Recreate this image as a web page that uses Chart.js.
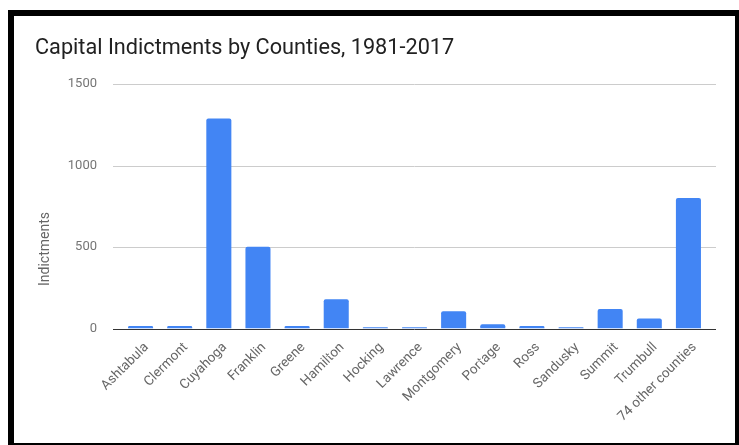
<!DOCTYPE html>
<html>
<head>
<meta charset="utf-8">
<script src="https://cdn.jsdelivr.net/npm/chart.js@4"></script>
<style>
  body { margin: 0; background: #fff; width: 739px; height: 445px; overflow: hidden; position: relative; }
  #frame { position: absolute; left: 8px; top: 10px; width: 721px; height: 427px; border: 6px solid #000; background: #fff; }
  #chart { display: block; }
</style>
</head>
<body>
<div id="frame"><canvas id="chart" width="721" height="427"></canvas></div>
<script>
const counties = ['Ashtabula', 'Clermont', 'Cuyahoga', 'Franklin', 'Greene', 'Hamilton', 'Hocking',
  'Lawrence', 'Montgomery', 'Portage', 'Ross', 'Sandusky', 'Summit', 'Trumbull', '74 other counties'];
const indictments = [16, 16, 1289, 501, 16, 180, 8, 8, 106, 26, 16, 8, 119, 61, 801];
const yTicks = [0, 500, 1000, 1500];

const titleText = 'Capital Indictments by Counties, 1981-2017';
const axisTitle = 'Indictments';

// gridlines run a little past the bars on both sides, plus title and axis label
const decorations = {
  id: 'decorations',
  beforeDatasetsDraw(chart) {
    const { ctx, chartArea, scales } = chart;
    ctx.save();
    yTicks.forEach(v => {
      if (v === 0) return;
      const y = Math.round(scales.y.getPixelForValue(v)) + 0.5;
      ctx.beginPath();
      ctx.strokeStyle = '#ccc';
      ctx.lineWidth = 1;
      ctx.moveTo(chartArea.left - 8, y);
      ctx.lineTo(chartArea.right + 8, y);
      ctx.stroke();
    });
    ctx.restore();
  },
  afterDatasetsDraw(chart) {
    const { ctx, scales, chartArea } = chart;
    // darker baseline over the bar bottoms
    const y0 = Math.round(scales.y.getPixelForValue(0)) + 0.5;
    ctx.save();
    ctx.beginPath();
    ctx.strokeStyle = '#333';
    ctx.lineWidth = 1;
    ctx.moveTo(chartArea.left - 8, y0);
    ctx.lineTo(chartArea.right + 8, y0);
    ctx.stroke();
    ctx.restore();
  },
  afterDraw(chart) {
    const { ctx } = chart;
    ctx.save();
    ctx.fillStyle = '#212121';
    ctx.font = '21.7px Roboto';
    ctx.textBaseline = 'alphabetic';
    ctx.fillText(titleText, 21, 38);

    ctx.translate(31, 233);
    ctx.rotate(-Math.PI / 2);
    ctx.textAlign = 'center';
    ctx.textBaseline = 'middle';
    ctx.fillStyle = '#666';
    ctx.font = '14px Roboto';
    ctx.fillText(axisTitle, 0, 0);
    ctx.restore();
  }
};

new Chart(document.getElementById('chart'), {
  type: 'bar',
  data: {
    labels: counties,
    datasets: [{
      label: axisTitle,
      data: indictments,
      backgroundColor: '#4285f4',
      borderRadius: 2,
      borderSkipped: 'start',
      barPercentage: 0.64,
      categoryPercentage: 1
    }]
  },
  options: {
    responsive: false,
    animation: false,
    layout: { padding: { top: 68, right: 27, left: 0, bottom: 0 } },
    plugins: { legend: { display: false }, tooltip: { enabled: false } },
    scales: {
      x: {
        grid: { display: false },
        border: { display: false },
        ticks: {
          color: '#666',
          font: { family: 'Roboto', size: 13.5 },
          minRotation: 45,
          maxRotation: 45,
          autoSkip: false,
          labelOffset: 6,
          padding: 3
        },
        afterFit(scale) { scale.height = 114.5; }
      },
      y: {
        min: 0,
        max: 1500,
        grid: { display: false },
        border: { display: false },
        afterBuildTicks(scale) { scale.ticks = yTicks.map(v => ({ value: v })); },
        ticks: {
          color: '#757575',
          font: { family: 'Roboto', size: 13 },
          padding: 16,
          callback: v => String(v)
        },
        afterFit(scale) { scale.width = 107; }
      }
    }
  },
  plugins: [decorations]
});
</script>
</body>
</html>
